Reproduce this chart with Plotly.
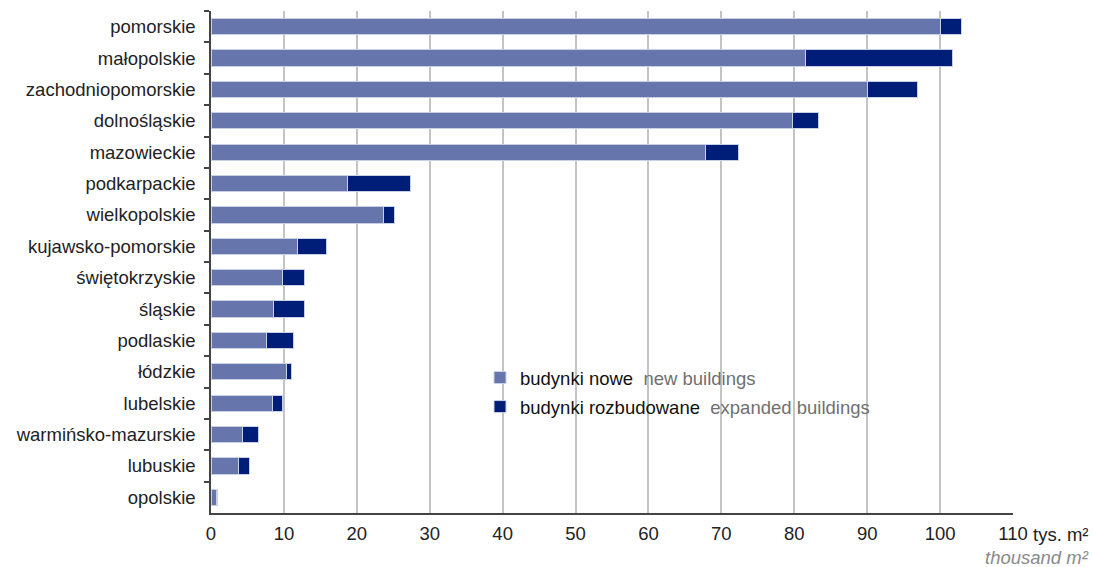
import plotly.graph_objects as go

regions = ["pomorskie", "małopolskie", "zachodniopomorskie", "dolnośląskie", "mazowieckie",
           "podkarpackie", "wielkopolskie", "kujawsko-pomorskie", "świętokrzyskie", "śląskie",
           "podlaskie", "łódzkie", "lubelskie", "warmińsko-mazurskie", "lubuskie", "opolskie"]
new_buildings = [100.0, 81.5, 90.0, 79.7, 67.8, 18.7, 23.6, 11.8, 9.8, 8.6, 7.6, 10.3, 8.5, 4.3, 3.8, 0.7]
expanded_buildings = [3.0, 20.2, 6.9, 3.6, 4.6, 8.6, 1.5, 4.1, 3.0, 4.2, 3.7, 0.7, 1.3, 2.2, 1.5, 0.2]
x_ticks = [0, 10, 20, 30, 40, 50, 60, 70, 80, 90, 100, 110]

FONT = "Liberation Sans, Arial, sans-serif"
C_NEW = "#6676ac"
C_EXP = "#001e78"
FS = 18.5

fig = go.Figure()
fig.add_trace(go.Bar(
    y=regions, x=new_buildings, orientation="h",
    name='budynki nowe  <span style="color:#707070">new buildings</span>',
    marker=dict(color=C_NEW, line=dict(color="#c9d0e6", width=1)),
    legendgroup="a",
))
fig.add_trace(go.Bar(
    y=regions, x=expanded_buildings, orientation="h",
    name='budynki rozbudowane  <span style="color:#707070">expanded buildings</span>',
    marker=dict(color=C_EXP, line=dict(color="#c9d0e6", width=1)),
    legendgroup="b",
))

W, H = 1093, 567
L, R, T, B = 211, 80, 11, 54
pw = W - L - R
ph = H - T - B


def px_x(x):
    return (x - L) / pw


def px_y(y):
    return 1 - (y - T) / ph


fig.update_layout(
    width=W, height=H,
    margin=dict(l=L, r=R, t=T, b=B),
    barmode="stack", bargap=0.48,
    plot_bgcolor="white", paper_bgcolor="white",
    font=dict(family=FONT, size=FS, color="#222222"),
    showlegend=True, hovermode=False,
    legend=dict(
        x=px_x(480), y=px_y(359), xanchor="left", yanchor="top",
        font=dict(family=FONT, size=FS, color="#111111"),
        bgcolor="rgba(0,0,0,0)", traceorder="grouped", tracegroupgap=2,
        itemwidth=30,
    ),
    xaxis=dict(
        range=[0, 110], tickvals=x_ticks, ticktext=[str(v) for v in x_ticks],
        showgrid=True, gridcolor="#c4c4c4", gridwidth=1.5,
        showline=True, linecolor="#444444", linewidth=1.5,
        ticks="", zeroline=False, ticklabelstandoff=3,
        tickfont=dict(family=FONT, size=FS, color="#222222"),
    ),
    yaxis=dict(
        categoryorder="array", categoryarray=regions, autorange="reversed",
        showgrid=False, showline=True, linecolor="#444444", linewidth=1.5,
        ticks="outside", ticklen=5, tickcolor="#444444", tickwidth=1.5,
        tickson="boundaries", ticklabelstandoff=10,
        tickfont=dict(family=FONT, size=FS, color="#222222"),
    ),
)

fig.add_annotation(
    text="tys. m²", xref="paper", yref="paper",
    x=px_x(1031), y=px_y(534), xanchor="left", yanchor="middle",
    showarrow=False, font=dict(family=FONT, size=FS, color="#222222"),
)
fig.add_annotation(
    text="<i>thousand m²</i>", xref="paper", yref="paper",
    x=px_x(1091), y=px_y(557), xanchor="right", yanchor="middle",
    showarrow=False, font=dict(family=FONT, size=FS, color="#8a8a8a"),
)

fig.write_html(
    "out.html",
    config={"displayModeBar": False},
    post_script="document.body.style.margin='0';document.body.style.overflow='hidden';",
)
